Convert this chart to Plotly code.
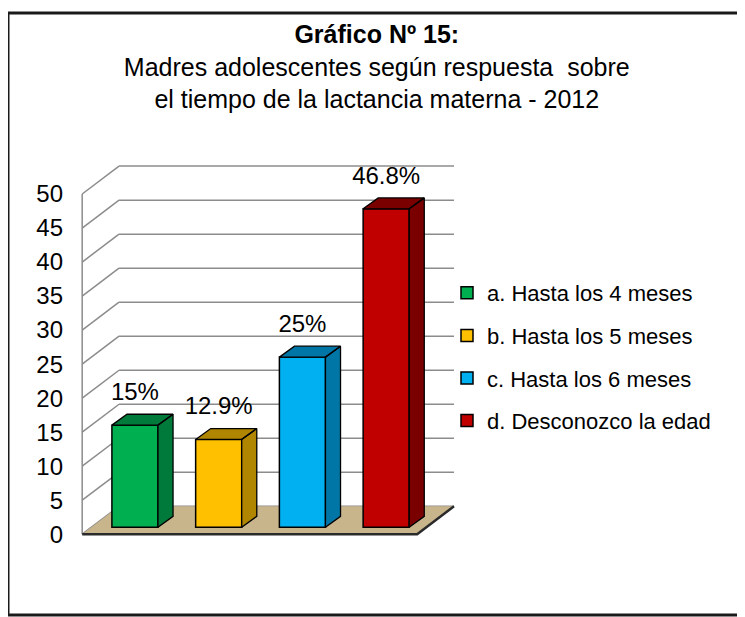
import plotly.graph_objects as go

# Data
categories = ["a. Hasta los 4 meses", "b. Hasta los 5 meses",
              "c. Hasta los 6 meses", "d. Desconozco la edad"]
values = [15, 12.9, 25, 46.8]
value_labels = ["15%", "12.9%", "25%", "46.8%"]
y_ticks = [0, 5, 10, 15, 20, 25, 30, 35, 40, 45, 50]

front_colors = ["#00B050", "#FFC000", "#00B0F0", "#C00000"]
side_colors = ["#007A3A", "#B08600", "#0076A6", "#7A0000"]

FONT = "Liberation Sans, Arial, sans-serif"

# fake 3D geometry (axis units)
DX, DY = 0.44, 4.1          # depth of floor / walls
BASE = 1.03                 # bars stand a bit behind the front edge
SHIFT = 0.63                # bar centre offset inside each category slot
BAR_W = 0.55
BDX, BDY = 0.18, 1.6        # bar depth

n = len(categories)

# plot area in pixels; the legend sits inside it so no margin push
PAGE_OFF = 8                # page body margin in front of the figure
ML, MR, MT, MB = 70, 13, 152, 84
PW, PH = 745 - ML - MR, 617 - MT - MB
X_UNIT = 83.74
x_range = [-0.05, -0.05 + PW / X_UNIT]


def px_x(p):
    # window pixel -> paper x
    return (p - PAGE_OFF - ML) / PW


def px_y(p):
    # window pixel -> paper y
    return (617 - MB - (p - PAGE_OFF)) / PH


fig = go.Figure()

# front faces of the bars
for i, (cat, v) in enumerate(zip(categories, values)):
    fig.add_trace(go.Bar(
        x=[i + SHIFT], y=[v], base=BASE, width=BAR_W,
        marker=dict(color=front_colors[i], line=dict(color="black", width=1.5)),
        name=cat, legendgroup=cat, hoverinfo="skip"
    ))

# side and top faces
for i, v in enumerate(values):
    xl = i + SHIFT - BAR_W / 2
    xr = i + SHIFT + BAR_W / 2
    top = BASE + v
    xs = [xr, xr + BDX, xr + BDX, xr, xr, None,
          xl, xr, xr + BDX, xl + BDX, xl]
    ys = [BASE, BASE + BDY, top + BDY, top, BASE, None,
          top, top, top + BDY, top + BDY, top]
    fig.add_trace(go.Scatter(
        x=xs, y=ys, mode="lines", fill="toself",
        fillcolor=side_colors[i], line=dict(color="black", width=1.3),
        showlegend=False, hoverinfo="skip"
    ))

# value labels
fig.add_trace(go.Scatter(
    x=[i + SHIFT for i in range(n)],
    y=[BASE + v + 4.6 for v in values],
    mode="text", text=value_labels,
    textfont=dict(family=FONT, size=24, color="black"),
    showlegend=False, hoverinfo="skip", cliponaxis=False
))

# walls, gridlines and floor
shapes = []
grid = dict(color="#8C8C8C", width=1.5)
for v in y_ticks:
    shapes.append(dict(type="line", x0=0, y0=v, x1=DX, y1=v + DY,
                       xref="x", yref="y", line=grid, layer="below"))
    shapes.append(dict(type="line", x0=DX, y0=v + DY, x1=n + DX, y1=v + DY,
                       xref="x", yref="y", line=grid, layer="below"))
shapes.append(dict(type="line", x0=0, y0=0, x1=0, y1=y_ticks[-1],
                   xref="x", yref="y", line=grid, layer="below"))
shapes.append(dict(type="path", xref="x", yref="y", layer="below",
                   path=f"M0,0 L{n},0 L{n + DX},{DY} L{DX},{DY} Z",
                   fillcolor="#C8B58C", line=dict(width=0)))
shapes.append(dict(type="path", xref="x", yref="y", layer="below",
                   path=f"M0,0 L{n},0 L{n + DX},{DY}",
                   line=dict(color="#2B2B2B", width=2.5)))

# outer frame: left, top and bottom edges (right edge is cut off in the original)
frame = dict(color="#1A1A1A", width=3)
shapes.append(dict(type="line", xref="paper", yref="paper",
                   x0=px_x(8), x1=px_x(8), y0=px_y(615), y1=px_y(13), line=frame))
shapes.append(dict(type="line", xref="paper", yref="paper",
                   x0=px_x(8), x1=px_x(760), y0=px_y(13), y1=px_y(13), line=frame))
shapes.append(dict(type="line", xref="paper", yref="paper",
                   x0=px_x(8), x1=px_x(760), y0=px_y(615), y1=px_y(615), line=frame))

fig.update_layout(
    width=745, height=617,
    margin=dict(l=ML, r=MR, t=MT, b=MB, autoexpand=False),
    paper_bgcolor="white", plot_bgcolor="white",
    barmode="overlay",
    shapes=shapes,
    title=dict(
        text="<b>Gráfico Nº 15:</b><br>Madres adolescentes según respuesta  sobre"
             "<br>el tiempo de la lactancia materna - 2012",
        xref="container", x=0.495, xanchor="center",
        yref="container", y=0.943, yanchor="top",
        font=dict(family=FONT, size=25, color="black")
    ),
    xaxis=dict(range=x_range, visible=False, fixedrange=True),
    yaxis=dict(range=[-1, 55], tickvals=y_ticks, showgrid=False,
               zeroline=False, showline=False, ticks="",
               ticklabelstandoff=14, automargin=False,
               tickfont=dict(family=FONT, size=24, color="black")),
    legend=dict(
        xref="paper", yref="paper", x=px_x(447), y=px_y(272),
        xanchor="left", yanchor="top",
        font=dict(family=FONT, size=22, color="black"),
        tracegroupgap=11, bgcolor="rgba(0,0,0,0)"
    ),
    showlegend=True
)

fig.write_html("out.html")
